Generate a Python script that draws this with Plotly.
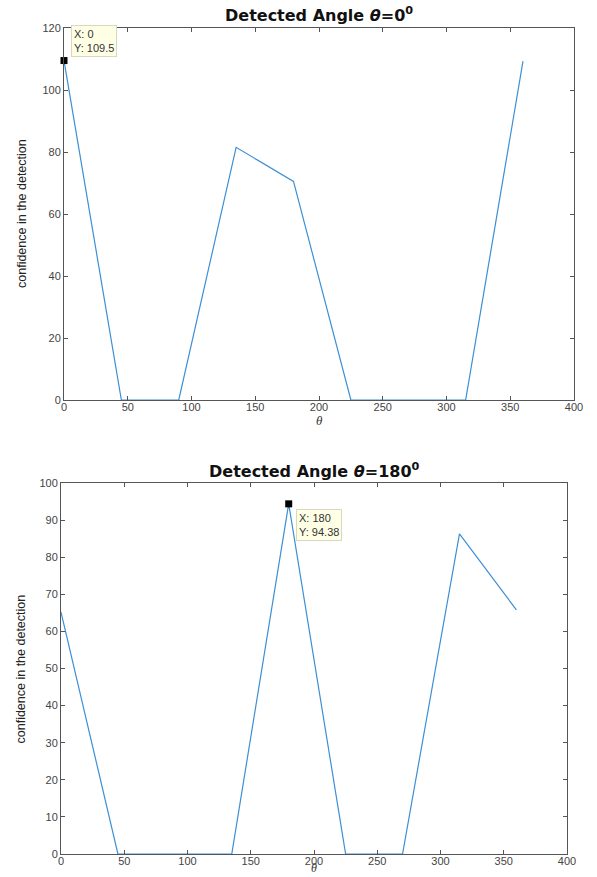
import plotly.graph_objects as go

theta = [0, 45, 90, 135, 180, 225, 270, 315, 360]
conf_0 = [109.5, 0, 0, 81.5, 70.5, 0, 0, 0, 109.3]
conf_180 = [65.2, 0, 0, 0, 94.38, 0, 0, 86.3, 65.8]

tip0_x, tip0_y = 0, 109.5
tip180_x, tip180_y = 180, 94.38

titles = ["<b>Detected Angle <i>θ</i>=0<sup>0</sup></b>", "<b>Detected Angle <i>θ</i>=180<sup>0</sup></b>"]
x_ticks = [0, 50, 100, 150, 200, 250, 300, 350, 400]
y_ticks_top = [0, 20, 40, 60, 80, 100, 120]
y_ticks_bot = [0, 10, 20, 30, 40, 50, 60, 70, 80, 90, 100]

W, H = 597, 877
LINE = "#3d8fd4"
AX = "#555555"
font_fam = "Liberation Sans, Arial, sans-serif"

fig = go.Figure()
fig.add_trace(go.Scatter(x=theta, y=conf_0, mode="lines", line=dict(color=LINE, width=1.2),
                         xaxis="x", yaxis="y", showlegend=False, hoverinfo="skip"))
fig.add_trace(go.Scatter(x=theta, y=conf_180, mode="lines", line=dict(color=LINE, width=1.2),
                         xaxis="x2", yaxis="y2", showlegend=False, hoverinfo="skip"))
fig.add_trace(go.Scatter(x=[tip0_x], y=[tip0_y], mode="markers",
                         marker=dict(symbol="square", size=7, color="black"),
                         xaxis="x", yaxis="y", showlegend=False, cliponaxis=False, hoverinfo="skip"))
fig.add_trace(go.Scatter(x=[tip180_x], y=[tip180_y], mode="markers",
                         marker=dict(symbol="square", size=7, color="black"),
                         xaxis="x2", yaxis="y2", showlegend=False, cliponaxis=False, hoverinfo="skip"))

def xax(dom, anchor):
    return dict(domain=dom, anchor=anchor, range=[0, 400], tickvals=x_ticks, automargin=False,
                showgrid=False, zeroline=False, showline=True, linecolor=AX, linewidth=1,
                mirror="ticks", ticks="inside", ticklen=4, tickcolor=AX, ticklabelstandoff=-3,
                tickfont=dict(size=11, color="#444444", family=font_fam))

def yax(dom, anchor, rng, tv):
    return dict(domain=dom, anchor=anchor, range=rng, tickvals=tv, automargin=False,
                showgrid=False, zeroline=False, showline=True, linecolor=AX, linewidth=1,
                mirror="ticks", ticks="inside", ticklen=4, tickcolor=AX,
                tickfont=dict(size=11, color="#444444", family=font_fam))

top_x = [64 / W, 574 / W]
top_y = [1 - 400 / H, 1 - 28 / H]
bot_x = [61 / W, 567 / W]
bot_y = [1 - 854 / H, 1 - 483 / H]

fig.update_layout(
    width=W, height=H, margin=dict(l=0, r=0, t=0, b=0, autoexpand=False),
    plot_bgcolor="white", paper_bgcolor="white",
    xaxis=xax(top_x, "y"), yaxis=yax(top_y, "x", [0, 120], y_ticks_top),
    xaxis2=xax(bot_x, "y2"), yaxis2=yax(bot_y, "x2", [0, 100], y_ticks_bot),
)

ann = []
# titles
for xd, yd, t, ys in [(top_x, top_y, titles[0], 1), (bot_x, bot_y, titles[1], 0)]:
    ann.append(dict(text=t, x=(xd[0] + xd[1]) / 2, y=yd[1], xref="paper", yref="paper",
                    xanchor="center", yanchor="bottom", yshift=ys, showarrow=False,
                    font=dict(size=16, color="#111111", family="DejaVu Sans, sans-serif")))
# x labels
ann.append(dict(text="<i>θ</i>", x=(top_x[0] + top_x[1]) / 2, y=top_y[0], xref="paper", yref="paper",
                xanchor="center", yanchor="top", yshift=-11, showarrow=False,
                font=dict(size=13, color="#333333", family="Liberation Serif, serif")))
ann.append(dict(text="<i>θ</i>", x=(bot_x[0] + bot_x[1]) / 2, y=0, xref="paper", yref="paper",
                xanchor="center", yanchor="bottom", yshift=0, showarrow=False,
                font=dict(size=12, color="#333333", family="Liberation Serif, serif")))
# y labels
for xd, yd, xs in [(top_x, top_y, -42), (bot_x, bot_y, -41)]:
    ann.append(dict(text="confidence in the detection", x=xd[0], y=(yd[0] + yd[1]) / 2,
                    xref="paper", yref="paper", textangle=-90, xanchor="center", yanchor="middle",
                    xshift=xs, showarrow=False,
                    font=dict(size=12.5, color="#222222", family="Liberation Sans Narrow, Arial Narrow, sans-serif")))
# data tips
ann.append(dict(text=f"X: {tip0_x}<br>Y: {tip0_y}", x=tip0_x, y=tip0_y, xref="x", yref="y",
                xanchor="left", yanchor="bottom", xshift=7, yshift=4, showarrow=False, align="left",
                bgcolor="#ffffe6", bordercolor="#d8d8c0", borderwidth=1, borderpad=2,
                font=dict(size=11, color="#333333", family=font_fam)))
ann.append(dict(text=f"X: {tip180_x}<br>Y: {tip180_y}", x=tip180_x, y=tip180_y, xref="x2", yref="y2",
                xanchor="left", yanchor="top", xshift=7, yshift=-5, showarrow=False, align="left",
                bgcolor="#ffffe6", bordercolor="#d8d8c0", borderwidth=1, borderpad=2,
                font=dict(size=11, color="#333333", family=font_fam)))
fig.update_layout(annotations=ann, hovermode=False)

fig.write_html("out.html", config={"displayModeBar": False, "staticPlot": True},
               post_script="document.body.style.margin='0';document.body.style.overflow='hidden';")
